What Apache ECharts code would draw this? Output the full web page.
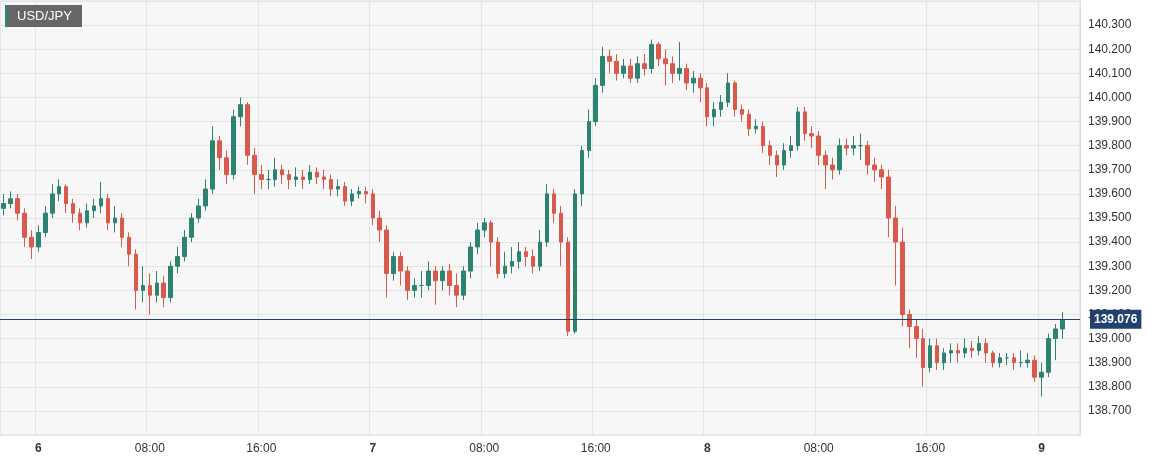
<!DOCTYPE html>
<html><head><meta charset="utf-8">
<script src="https://cdn.jsdelivr.net/npm/echarts@6/dist/echarts.min.js"></script>
<style>html,body{margin:0;padding:0;background:#fff}#c{width:1154px;height:460px}</style>
</head><body><div id="c"></div>
<script>
const title = 'USD/JPY';
const lastPrice = 139.076;
const opens = [139.54,139.56,139.58,139.52,139.42,139.38,139.44,139.52,139.60,139.63,139.56,139.52,139.48,139.53,139.55,139.58,139.48,139.50,139.42,139.35,139.20,139.22,139.18,139.23,139.17,139.30,139.34,139.42,139.50,139.55,139.62,139.82,139.75,139.68,139.92,139.97,139.76,139.68,139.66,139.66,139.70,139.68,139.66,139.67,139.66,139.69,139.67,139.66,139.62,139.63,139.57,139.60,139.61,139.60,139.50,139.45,139.27,139.34,139.28,139.20,139.22,139.22,139.28,139.24,139.28,139.22,139.18,139.28,139.38,139.45,139.48,139.40,139.27,139.30,139.32,139.36,139.34,139.30,139.40,139.60,139.52,139.40,139.03,139.60,139.78,139.90,140.05,140.17,140.15,140.10,140.13,140.08,140.14,140.12,140.22,140.16,140.14,140.10,140.12,140.06,140.08,140.04,139.92,139.95,139.98,140.06,139.95,139.93,139.87,139.88,139.80,139.76,139.72,139.78,139.80,139.94,139.85,139.84,139.76,139.72,139.70,139.80,139.79,139.80,139.80,139.72,139.70,139.67,139.50,139.40,139.10,139.05,139.00,138.88,138.97,138.90,138.94,138.95,138.94,138.96,138.95,138.98,138.94,138.90,138.92,138.92,138.90,138.90,138.91,138.84,138.86,139.00,139.04];
const closes = [139.56,139.58,139.52,139.42,139.38,139.44,139.52,139.60,139.63,139.56,139.52,139.48,139.53,139.55,139.58,139.48,139.50,139.42,139.35,139.20,139.22,139.18,139.23,139.17,139.30,139.34,139.42,139.50,139.55,139.62,139.82,139.75,139.68,139.92,139.97,139.76,139.68,139.66,139.66,139.70,139.68,139.66,139.67,139.66,139.69,139.67,139.66,139.62,139.63,139.57,139.60,139.61,139.60,139.50,139.45,139.27,139.34,139.28,139.20,139.22,139.22,139.28,139.24,139.28,139.22,139.18,139.28,139.38,139.45,139.48,139.40,139.27,139.30,139.32,139.36,139.34,139.30,139.40,139.60,139.52,139.40,139.03,139.60,139.78,139.90,140.05,140.17,140.15,140.10,140.13,140.08,140.14,140.12,140.22,140.16,140.14,140.10,140.12,140.06,140.08,140.04,139.92,139.95,139.98,140.06,139.95,139.93,139.87,139.88,139.80,139.76,139.72,139.78,139.80,139.94,139.85,139.84,139.76,139.72,139.70,139.80,139.79,139.80,139.80,139.72,139.70,139.67,139.50,139.40,139.10,139.05,139.00,138.88,138.97,138.90,138.94,138.95,138.94,138.96,138.95,138.98,138.94,138.90,138.92,138.92,138.90,138.90,138.91,138.84,138.86,139.00,139.04,139.076];
const highs = [139.60,139.61,139.60,139.54,139.45,139.47,139.55,139.64,139.66,139.64,139.58,139.54,139.56,139.58,139.65,139.60,139.55,139.52,139.44,139.37,139.30,139.27,139.28,139.26,139.32,139.38,139.45,139.52,139.58,139.66,139.88,139.84,139.78,139.95,140.00,139.98,139.79,139.72,139.70,139.75,139.72,139.70,139.71,139.70,139.72,139.71,139.70,139.68,139.66,139.65,139.62,139.63,139.63,139.62,139.53,139.47,139.36,139.36,139.30,139.25,139.28,139.32,139.30,139.30,139.31,139.27,139.30,139.40,139.48,139.50,139.49,139.42,139.36,139.38,139.40,139.38,139.37,139.45,139.64,139.62,139.55,139.42,139.62,139.80,139.95,140.08,140.21,140.20,140.18,140.16,140.16,140.17,140.18,140.24,140.23,140.20,140.17,140.23,140.14,140.11,140.10,140.06,139.98,140.01,140.10,140.07,139.97,139.95,139.91,139.90,139.82,139.78,139.81,139.84,139.96,139.96,139.88,139.86,139.78,139.75,139.83,139.83,139.84,139.85,139.82,139.75,139.72,139.70,139.55,139.46,139.12,139.08,139.04,139.00,139.00,138.96,138.98,138.98,139.00,138.99,139.01,139.00,138.95,138.94,138.94,138.94,138.95,138.94,138.93,138.90,139.02,139.06,139.11];
const lows = [139.51,139.54,139.49,139.38,139.33,139.36,139.42,139.50,139.57,139.52,139.48,139.45,139.46,139.50,139.52,139.45,139.44,139.38,139.30,139.12,139.15,139.10,139.15,139.13,139.15,139.27,139.32,139.40,139.48,139.53,139.60,139.70,139.64,139.66,139.88,139.72,139.60,139.62,139.62,139.63,139.64,139.62,139.63,139.62,139.64,139.64,139.62,139.59,139.59,139.55,139.55,139.58,139.56,139.47,139.40,139.17,139.24,139.22,139.16,139.17,139.17,139.20,139.14,139.20,139.18,139.13,139.16,139.25,139.35,139.42,139.30,139.25,139.25,139.27,139.29,139.30,139.27,139.28,139.38,139.48,139.30,139.01,139.02,139.55,139.75,139.88,140.02,140.10,140.07,140.08,140.06,140.06,140.09,140.10,140.13,140.05,140.06,140.07,140.03,140.02,139.98,139.88,139.88,139.92,139.96,139.92,139.90,139.84,139.85,139.77,139.72,139.67,139.70,139.75,139.78,139.82,139.79,139.72,139.62,139.66,139.68,139.76,139.76,139.74,139.68,139.65,139.62,139.42,139.22,139.05,138.96,138.92,138.80,138.86,138.87,138.87,138.90,138.90,138.92,138.92,138.93,138.90,138.88,138.88,138.89,138.87,138.88,138.88,138.82,138.76,138.84,138.91,139.00];
const yTicks = [138.6,138.7,138.8,138.9,139.0,139.1,139.2,139.3,139.4,139.5,139.6,139.7,139.8,139.9,140.0,140.1,140.2,140.3,140.4];
const nSlots = 155;
const cats = [];
for (let i = 0; i < nSlots; i++) {
  const m = 21*60 + 30 + i*30;
  const day = 5 + Math.floor(m / 1440);
  const hm = m % 1440;
  cats.push(day + '|' + String(Math.floor(hm/60)).padStart(2,'0') + ':' + String(hm%60).padStart(2,'0'));
}
const isMajor = (idx) => { const t = cats[idx].split('|')[1]; return t.endsWith(':00') && (parseInt(t) % 8 === 0); };
const data = cats.map((c, i) => i < closes.length ? [opens[i], closes[i], lows[i], highs[i]] : '-');
const chart = echarts.init(document.getElementById('c'));
chart.setOption({
  animation: false,
  backgroundColor: '#ffffff',
  grid: { left: 0, right: 74, top: 1, bottom: 25, show: true, backgroundColor: '#f7f7f7', borderColor: '#d6d9ea', borderWidth: 1 },
  xAxis: {
    type: 'category', data: cats, boundaryGap: true,
    axisLine: { show: false }, axisTick: { show: false },
    axisLabel: { interval: (i) => isMajor(i), color: '#333', fontSize: 12, fontFamily: 'Arial, Liberation Sans, sans-serif', margin: 8,
      formatter: (v) => { const [d, t] = v.split('|'); return t === '00:00' ? '{b|' + d + '}' : t; },
      rich: { b: { fontWeight: 'bold', fontSize: 12, color: '#333' } } },
    splitLine: { show: true, interval: (i) => isMajor(i), lineStyle: { color: '#e4e4e4' } }
  },
  yAxis: {
    type: 'value', position: 'right', min: yTicks[0], max: yTicks[yTicks.length-1], interval: 0.1,
    axisLine: { show: true, lineStyle: { color: '#d6d9ea' } }, axisTick: { show: false },
    axisLabel: { color: '#333', fontSize: 12, fontFamily: 'Arial, Liberation Sans, sans-serif', margin: 8,
      formatter: (v) => (v <= 138.65 || v >= 140.35) ? '' : v.toFixed(3) },
    splitLine: { lineStyle: { color: '#e4e4e4' } }
  },
  series: [{
    type: 'candlestick', data: data, barWidth: 4,
    itemStyle: { color: '#2e8270', color0: '#d9594c', borderColor: '#2e8270', borderColor0: '#d9594c', borderWidth: 1 },
    markLine: {
      symbol: 'none', silent: true, animation: false,
      lineStyle: { color: '#23416f', type: 'solid', width: 1 },
      label: { show: true, position: 'end', formatter: lastPrice.toFixed(3), color: '#fff', backgroundColor: '#23416f',
        fontWeight: 'bold', fontSize: 12, padding: [4, 4, 3, 4], distance: 10 },
      data: [{ yAxis: lastPrice }]
    }
  }],
  graphic: [
    { type: 'rect', left: 5, top: 5, z: 100, shape: { width: 77, height: 22 }, style: { fill: '#666666' } },
    { type: 'rect', left: 5, top: 5, z: 101, shape: { width: 3, height: 22 }, style: { fill: '#2e8270' } },
    { type: 'text', left: 17, top: 10, z: 102, style: { text: title, fill: '#fff', fontSize: 13, fontFamily: 'Arial, Liberation Sans, sans-serif' } }
  ]
});
</script></body></html>
